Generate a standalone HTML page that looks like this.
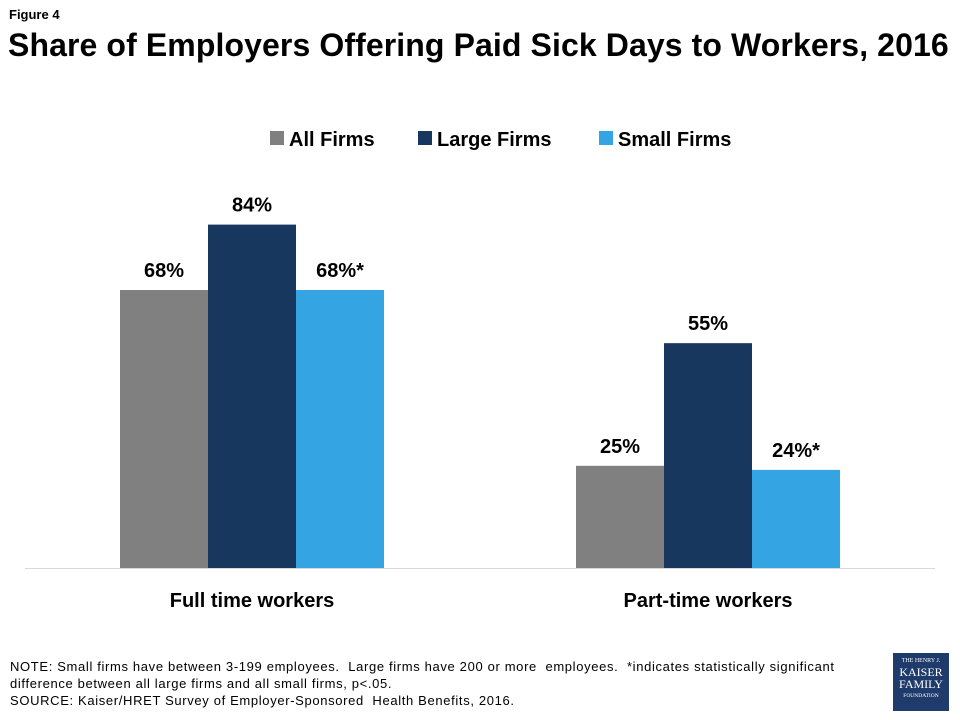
<!DOCTYPE html>
<html><head><meta charset="utf-8"><style>
body{margin:0;width:960px;height:720px;background:#fff;font-family:"Liberation Sans",Arial,sans-serif;position:relative;overflow:hidden}
.t{position:absolute;color:#000}
</style></head><body>
<div class="t" style="left:9px;top:7px;font-size:13px;font-weight:bold">Figure 4</div>
<div class="t" style="left:8px;top:27px;font-size:32px;font-weight:bold;letter-spacing:0.1px;white-space:nowrap">Share of Employers Offering Paid Sick Days to Workers, 2016</div>
<svg id="chart" width="960" height="720" style="position:absolute;left:0;top:0" font-family="Liberation Sans, Arial, sans-serif"></svg>
<div class="t" style="left:10px;top:658px;font-size:13px;line-height:17px;white-space:nowrap;letter-spacing:0.65px">NOTE: Small firms have between 3-199 employees.&nbsp; Large firms have 200 or more&nbsp; employees.&nbsp; *indicates statistically significant<br>difference between all large firms and all small firms, p&lt;.05.<br>SOURCE: Kaiser/HRET Survey of Employer-Sponsored&nbsp; Health Benefits, 2016.</div>
<div style="position:absolute;left:893px;top:653px;width:56px;height:58px;background:#1f3b6b;color:#fff;font-family:'Liberation Serif',serif;text-align:center">
<div style="font-size:6px;margin-top:5px">THE HENRY J.</div>
<div style="font-size:12px;line-height:12px;margin-top:2px">KAISER</div>
<div style="font-size:12px;line-height:12px">FAMILY</div>
<div style="font-size:5.5px;margin-top:3px">FOUNDATION</div>
</div>
<script>
const categories=["Full time workers","Part-time workers"];
const seriesNames=["All Firms","Large Firms","Small Firms"];
const allFirms=[68,25];
const largeFirms=[84,55];
const smallFirms=[68,24];
const valueLabels=[["68%","25%"],["84%","55%"],["68%*","24%*"]];
const colors=["#808080","#17375e","#35a4e2"];
const series=[allFirms,largeFirms,smallFirms];
const NS="http://www.w3.org/2000/svg";
const svg=document.getElementById('chart');
const baseY=568,pxPer=4.088,barW=88,centers=[252,708];
function y(v){return baseY-v*pxPer;}
function x(ci,si){return centers[ci]-1.5*barW+si*barW;}
function mk(tag,attrs){const e=document.createElementNS(NS,tag);for(const k in attrs)e.setAttribute(k,attrs[k]);svg.appendChild(e);return e;}
const ax=mk('line',{x1:25,x2:935,y1:baseY+0.5,y2:baseY+0.5,stroke:'#d9d9d9','stroke-width':1});


series.forEach((s,si)=>{s.forEach((v,ci)=>{
  const r=mk('rect',{x:x(ci,si),y:y(v),width:barW,height:v*pxPer,fill:colors[si]});
  
  
  const t=mk('text',{x:x(ci,si)+barW/2,y:y(v)-13,'text-anchor':'middle','font-size':20,'font-weight':'bold',fill:'#000'});
  t.textContent=valueLabels[si][ci];
  
  
});});
categories.forEach((c,ci)=>{
  const t=mk('text',{x:centers[ci],y:607,'text-anchor':'middle','font-size':20,'font-weight':'bold',fill:'#000'});
  t.textContent=c;
  
  
});
const legX=[270,418,599];
seriesNames.forEach((n,i)=>{
  const r=mk('rect',{x:legX[i],y:131,width:14,height:14,fill:colors[i]});
  
  
  const t=mk('text',{x:legX[i]+19,y:146,'font-size':20,'font-weight':'bold',fill:'#000'});
  t.textContent=n;
  
  
});
</script>
</body></html>
